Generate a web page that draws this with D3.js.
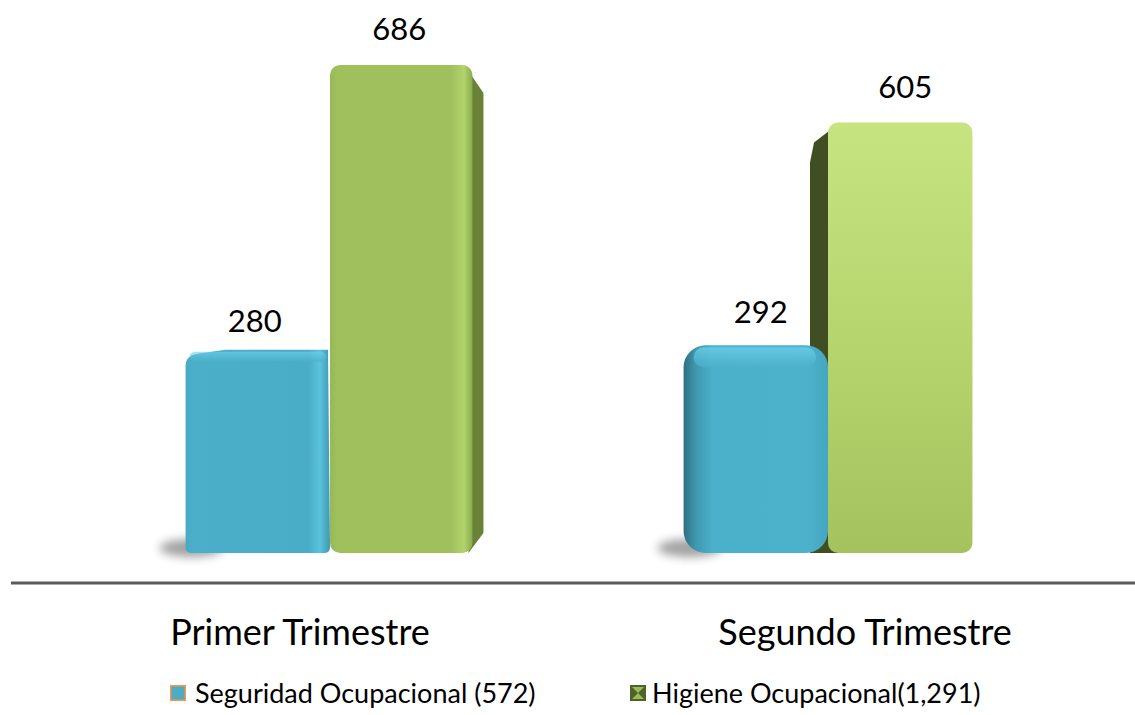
<!DOCTYPE html>
<html><head><meta charset="utf-8">
<script src="https://cdn.jsdelivr.net/npm/d3@7"></script>
<style>body{margin:0;background:#fff;}svg{display:block;}text{font-family:Lato,"Open Sans",sans-serif;fill:#000;}</style>
</head><body>
<svg id="c" width="1135" height="715"></svg>
<script>
const categories = ["Primer Trimestre", "Segundo Trimestre"];
const seriesNames = ["Seguridad Ocupacional (572)", "Higiene Ocupacional(1,291)"];
const seguridad = [280, 292];
const higiene = [686, 605];

const svg = d3.select("#c");
const x0 = d3.scaleBand().domain(categories).range([81, 1077]).paddingInner(0.42).paddingOuter(0.21);
const x1 = d3.scaleBand().domain([0,1]).range([0, x0.bandwidth()]).padding(0);
const y = d3.scaleLinear().domain([0, 686]).range([553, 65]);

const defs = svg.append("defs");
function grad(id, stops, horiz){
  const g = defs.append("linearGradient").attr("id", id)
    .attr("x1",0).attr("y1",0).attr("x2", horiz?1:0).attr("y2", horiz?0:1);
  stops.forEach(s => g.append("stop").attr("offset", s[0]).attr("stop-color", s[1]));
}
grad("blueH", [[0,"#48a9c4"],[0.05,"#4bafca"],[0.85,"#4aadc8"],[0.93,"#5bc3dd"],[1,"#3f98b0"]], true);
grad("blueH2", [[0,"#2d6f80"],[0.08,"#3f97ae"],[0.2,"#4bb0ca"],[0.85,"#4cb2cc"],[1,"#45a6bf"]], true);
grad("greenH", [[0,"#96b856"],[0.05,"#9fc05d"],[0.85,"#a0c05e"],[0.94,"#b2d46c"],[1,"#8aab4d"]], true);
grad("greenV2", [[0,"#c6e581"],[0.5,"#b6d56f"],[1,"#a4c35e"]], false);
grad("topBlue", [[0,"#6fd3ec"],[1,"#4bafca"]], false);
const f = defs.append("filter").attr("id","blur").attr("x","-50%").attr("y","-50%").attr("width","200%").attr("height","200%");
f.append("feGaussianBlur").attr("stdDeviation", 5);

const data = categories.map((c,i)=>({cat:c, vals:[seguridad[i], higiene[i]], i}));
const g = svg.append("g");
const bw = x1.bandwidth();
const base = y(0);

function blueBar(d, bx, by){
  if (d.i === 0) {
    g.append("path").attr("d", `M${bx},${base-6} L${bx},${by+12} Q${bx},${by+2} ${bx+12},${by} L${bx+40},${by-4} L${bx+bw-2},${by-4} L${bx+bw},${base-6} Q${bx+bw},${base} ${bx+bw-6},${base} L${bx+6},${base} Q${bx},${base} ${bx},${base-6}Z`)
      .attr("fill","url(#blueH)");
    g.append("rect").attr("x", bx+4).attr("y", by-2).attr("width", bw-8).attr("height", 10)
      .attr("rx",6).attr("fill","url(#topBlue)").attr("opacity",0.6);
  } else {
    g.append("rect").attr("x", bx).attr("y", by).attr("width", bw).attr("height", base-by)
      .attr("rx", 22).attr("fill","url(#blueH2)");
    g.append("rect").attr("x", bx+10).attr("y", by+2).attr("width", bw-22).attr("height", 20)
      .attr("rx",10).attr("fill","url(#topBlue)").attr("opacity",0.7);
  }
}

data.forEach(d => {
  const gx = x0(d.cat);
  g.append("ellipse").attr("cx", gx + 6).attr("cy", base - 5)
    .attr("rx", 32).attr("ry", 9).attr("fill", "#7a7a7a").attr("opacity", 0.7).attr("filter","url(#blur)");
  const bx = gx + x1(0), by = y(d.vals[0]);
  const gxx = gx + x1(1), gy = y(d.vals[1]);
  if (d.i === 0) {
    blueBar(d, bx, by);
    g.append("path").attr("d", `M${gxx+bw-10},${gy} L${gxx+bw+9},${gy+28} L${gxx+bw+9},${base-20} L${gxx+bw-6},${base}Z`).attr("fill","#6a8238");
    g.append("rect").attr("x", gxx).attr("y", gy).attr("width", bw-2).attr("height", base-gy)
      .attr("rx", 10).attr("fill","url(#greenH)");
  } else {
    g.append("path").attr("d", `M${gxx+12},${gy} L${gxx-14},${gy+20} L${gxx-18},${gy+40} L${gxx-18},${base} L${gxx+10},${base}Z`).attr("fill","#3f4f23");
    g.append("rect").attr("x", gxx).attr("y", gy).attr("width", bw).attr("height", base-gy)
      .attr("rx", 10).attr("fill","url(#greenV2)");
    blueBar(d, bx, by);
  }
  const dx = d.i === 0 ? -3 : 5;
  g.append("text").attr("x", bx + bw/2 + dx).attr("y", by - 22)
    .attr("text-anchor","middle").attr("font-size", 31).text(d.vals[0]);
  g.append("text").attr("x", gxx + bw/2 + dx).attr("y", gy - 25)
    .attr("text-anchor","middle").attr("font-size", 31).text(d.vals[1]);
});

// axis line
svg.append("line").attr("x1", 11).attr("x2", 1135).attr("y1", 583).attr("y2", 583)
  .attr("stroke", "#5a5a5a").attr("stroke-width", 3);
// category labels via axis
const labelShift = [-30, 37];
const ax = svg.append("g").attr("transform","translate(0,583)")
  .call(d3.axisBottom(x0).tickSize(0).tickPadding(0));
ax.select(".domain").remove();
ax.selectAll(".tick text").attr("font-size", 36).attr("dy", null).attr("y", 62)
  .attr("transform", (d,i) => `translate(${labelShift[i]},0)`).style("font-family","Lato, sans-serif").attr("fill","#000");

// legend
const legend = svg.append("g").attr("transform","translate(0,703)");
const lx = [170, 630];
seriesNames.forEach((n,i) => {
  const lg = legend.append("g").attr("transform", `translate(${lx[i]},0)`);
  if (i===0) {
    lg.append("rect").attr("x",0.75).attr("y",-17.25).attr("width",14.5).attr("height",14.5)
      .attr("fill","#4bacc6").attr("stroke","#f79646").attr("stroke-width",1.5);
  } else {
    lg.append("rect").attr("x",0).attr("y",-18).attr("width",16).attr("height",16).attr("fill","#4f6228");
    lg.append("path").attr("d","M2,-16 L14,-16 L8,-10Z M2,-4 L14,-4 L8,-10Z").attr("fill","#9bbb59");
  }
  lg.append("text").attr("x", i===0?25:22).attr("y", 0).attr("font-size", 27).text(n);
});
</script>
</body></html>
